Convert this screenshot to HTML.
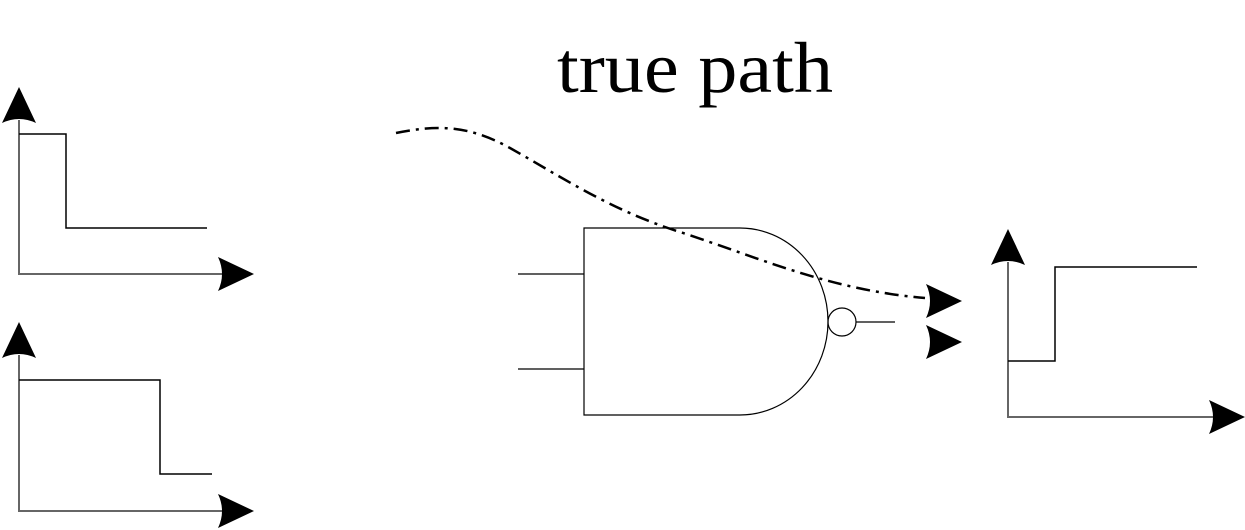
<!DOCTYPE html>
<html><head><meta charset="utf-8"><style>html,body{margin:0;padding:0;background:#fff}svg{display:block}</style></head>
<body>
<svg width="1245" height="530" viewBox="0 0 1245 530" xmlns="http://www.w3.org/2000/svg">
<defs>
<path id="ah" d="M0,0 L-36,-17 Q-28,0 -36,17 Z" fill="#000"/>
</defs>
<text x="557" y="92" font-family="Liberation Serif, serif" font-size="72" textLength="276" lengthAdjust="spacingAndGlyphs">true path</text>
<g stroke="#666" stroke-width="2" fill="none">
<path d="M19,120 V274 H225"/>
<path d="M19,355 V511 H225"/>
<path d="M1008,262 V417 H1215"/>
</g>
<g stroke="#000" stroke-width="1.5" fill="none">
<path d="M19,134 H66 V228 H207"/>
<path d="M19,380 H160 V474 H212"/>
<path d="M1008,361 H1055 V267 H1197"/>
</g>
<use href="#ah" transform="translate(19,87) rotate(-90)"/>
<use href="#ah" transform="translate(254,274)"/>
<use href="#ah" transform="translate(19,322) rotate(-90)"/>
<use href="#ah" transform="translate(254,511)"/>
<use href="#ah" transform="translate(1008,229) rotate(-90)"/>
<use href="#ah" transform="translate(1245,417)"/>
<use href="#ah" transform="translate(962,301)"/>
<use href="#ah" transform="translate(962,342)"/>
<g stroke="#000" stroke-width="1.2" fill="none">
<path d="M584,228 H740 A88,93.5 0 0 1 740,415 H584 Z"/>
<circle cx="842" cy="322" r="14"/>
<path d="M856,322 H895"/>
<path d="M518,274 H584"/>
<path d="M518,369 H584"/>
</g>
<path d="M396,133 C440,124 470,126 510,148 C560,176 610,210 680,232 C760,258 830,290 925,298" stroke="#000" stroke-width="2.5" fill="none" stroke-dasharray="14,6,3,6"/>
</svg>
</body></html>
